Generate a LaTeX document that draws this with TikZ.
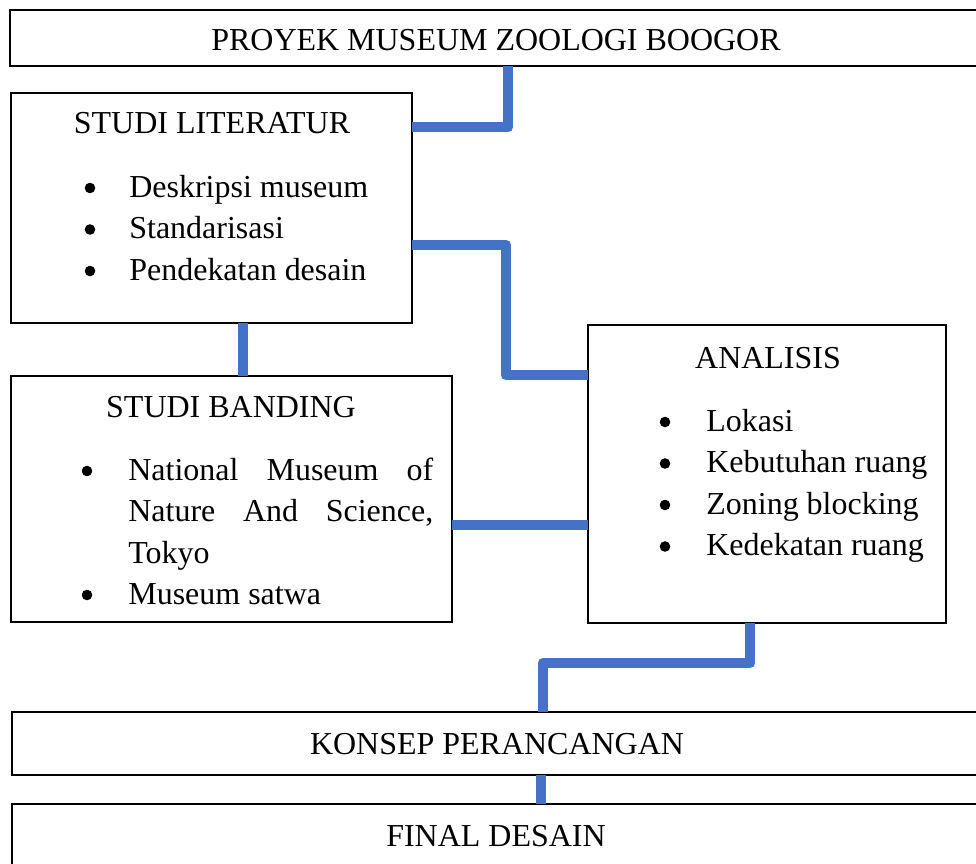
\documentclass[tikz,border=0pt]{standalone}
\usepackage{fontspec}
\setmainfont{Liberation Serif}
\usetikzlibrary{positioning,fit}
\definecolor{birugaris}{HTML}{4472C4}
\tikzset{
    bagan/.style={
        x=0.02cm, y=-0.02cm,
        font=\fontsize{18.2}{23.6}\selectfont,
        % Stile per i riquadri
        kotak/.style={draw, rectangle, line width=1.2pt,
                      inner sep=0pt, outer sep=0pt},
        % Stile per i titoli
        judul/.style={inner sep=0pt, align=center},
        % Stile per gli elenchi puntati
        daftar/.style={inner sep=0pt, anchor=north west},
        % Stile per i punti elenco
        titik/.style={fill=black},
        % Stile per le linee di collegamento
        hubung/.style={draw=birugaris, line width=6.2pt, line join=round}
    }
}

\begin{document}
\begin{tikzpicture}[bagan]
  \useasboundingbox (0,0) rectangle (976,864);
  \clip (0,0) rectangle (976,864);

  % Riquadri
  \node[kotak, fit={(10,10) (992,66)}] (proyek) {};
  \node[kotak, line width=1.6pt, fit={(11,93) (412,323)}] (literatur) {};
  \node[kotak, fit={(11,376) (452,622)}] (banding) {};
  \node[kotak, fit={(588,325) (946,623)}] (analisis) {};
  \node[kotak, fit={(12,712) (992,775)}] (konsep) {};
  \node[kotak, fit={(12,804) (992,900)}] (final) {};

  % Testi
  \node[judul] (proyek-t) at (496,40) {PROYEK MUSEUM ZOOLOGI BOOGOR};
  \node[judul] (literatur-t) at (212,123) {STUDI LITERATUR};
  \node[daftar] (literatur-d) at (129,168) {%
    \begin{tabular}{@{}p{6.5cm}@{}}
      Deskripsi museum\\
      Standarisasi\\
      Pendekatan desain
    \end{tabular}};
  \node[judul] (banding-t) at (231,407) {STUDI BANDING};
  \node[daftar] (banding-d) at (128,451) {%
    \begin{tabular}{@{}p{6.1cm}@{}}
      National Museum of\linebreak Nature And Science,\linebreak Tokyo\\
      Museum satwa
    \end{tabular}};
  \node[judul] (analisis-t) at (768,358) {ANALISIS};
  \node[daftar] (analisis-d) at (706,402) {%
    \begin{tabular}{@{}p{5.2cm}@{}}
      Lokasi\\
      Kebutuhan ruang\\
      Zoning blocking\\
      Kedekatan ruang
    \end{tabular}};
  \node[judul] (konsep-t) at (497,744) {KONSEP PERANCANGAN};
  \node[judul] (final-t) at (496,836) {FINAL DESAIN};

  % Punti elenco
  \foreach \y in {188,229.5,271}
    \fill[titik] (90,\y) circle[radius=0.106cm];
  \foreach \y in {471,595}
    \fill[titik] (87,\y) circle[radius=0.106cm];
  \foreach \y in {422,463.5,505,546.5}
    \fill[titik] (665,\y) circle[radius=0.106cm];

  % Collegamenti
  \draw[hubung] (proyek.south -| 508,0) |- (literatur.east |- 0,127);
  \draw[hubung] (literatur.east |- 0,245) -- (506,245) -- (506,375)
    -- (analisis.west |- 0,375);
  \draw[hubung] (literatur.south -| 243,0) -- (banding.north -| 243,0);
  \draw[hubung] (banding.east |- 0,525) -- (analisis.west |- 0,525);
  \draw[hubung] (analisis.south -| 750,0) -- (750,663)
    -| (konsep.north -| 543,0);
  \draw[hubung] (konsep.south -| 541,0) -- (final.north -| 541,0);
\end{tikzpicture}
\end{document}
